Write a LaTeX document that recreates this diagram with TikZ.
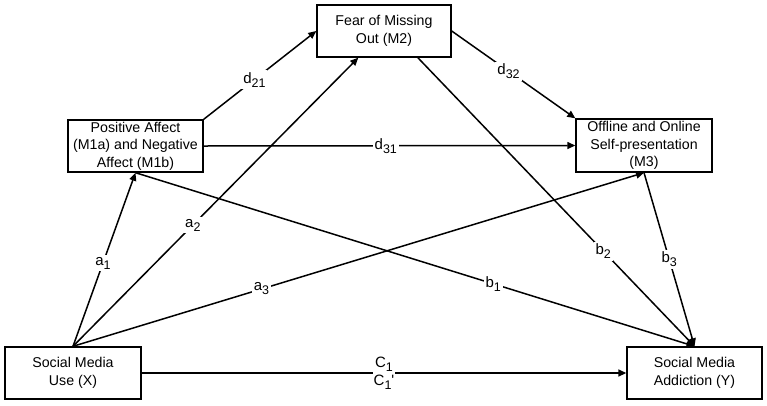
\documentclass[tikz,border=0pt]{standalone}
\usepackage{fontspec}
\setmainfont{Liberation Sans}
\usetikzlibrary{arrows.meta,calc}
\newcommand{\lsub}[1]{\raisebox{-4pt}{\fontsize{12.5}{13}\selectfont #1}}
\begin{document}
\begin{tikzpicture}[x=1pt,y=-1pt,
  box/.style={draw,line width=1.4pt,rectangle,align=center,inner sep=0pt,
    font=\fontsize{14.2}{17.5}\selectfont},
  conn/.style={line width=1.5pt,-{Triangle[length=8pt,width=7pt]}},
  lab/.style={fill=white,inner sep=2pt,font=\fontsize{15}{17}\selectfont}]
\fill[white] (0,0) rectangle (767,405);
\useasboundingbox (0,0) rectangle (767,405);
\node[box,minimum width=135pt,minimum height=52pt] (M1) at (135.5,146) {Positive Affect\\(M1a) and Negative\\Affect (M1b)};
\node[box,minimum width=134pt,minimum height=52pt] (M2) at (384,31) {Fear of Missing\\Out (M2)};
\node[box,minimum width=136pt,minimum height=53pt] (M3) at (644,145.5) {Offline and Online\\Self-presentation\\(M3)};
\node[box,minimum width=136pt,minimum height=52pt] (X) at (73,373) {Social Media\\Use (X)};
\node[box,minimum width=135pt,minimum height=52pt] (Y) at (694.5,373) {Social Media\\Addiction (Y)};
\coordinate (M2b1) at ($(M2.south west)!0.31!(M2.south east)$);
\coordinate (M2b2) at ($(M2.south west)!0.75!(M2.south east)$);
\draw[conn] (M1.north east) -- node[lab,pos=0.45] {d\lsub{21}} (M2.west);
\draw[conn] (M1.east) -- node[lab,pos=0.49] {d\lsub{31}} (M3.west);
\draw[conn] (M2.east) -- node[lab,pos=0.46] {d\lsub{32}} (M3.north west);
\draw[conn] (X.north) -- node[lab,pos=0.48] {a\lsub{1}} (M1.south);
\draw[conn] (X.north) -- node[lab,pos=0.42] {a\lsub{2}} (M2b1);
\draw[conn] (X.north) -- node[lab,pos=0.33] {a\lsub{3}} (M3.south);
\draw[conn] (M1.south) -- node[lab,pos=0.64] {b\lsub{1}} (Y.north);
\draw[conn] (M2b2) -- node[lab,pos=0.67] {b\lsub{2}} (Y.north);
\draw[conn] (M3.south) -- node[lab,pos=0.5] {b\lsub{3}} (Y.north);
\draw[conn] (X.east) -- node[lab,align=center,inner sep=1pt,font=\fontsize{15}{18}\selectfont] {C\lsub{1}\\C\lsub{1}\textquotesingle} (Y.west);
\end{tikzpicture}
\end{document}
